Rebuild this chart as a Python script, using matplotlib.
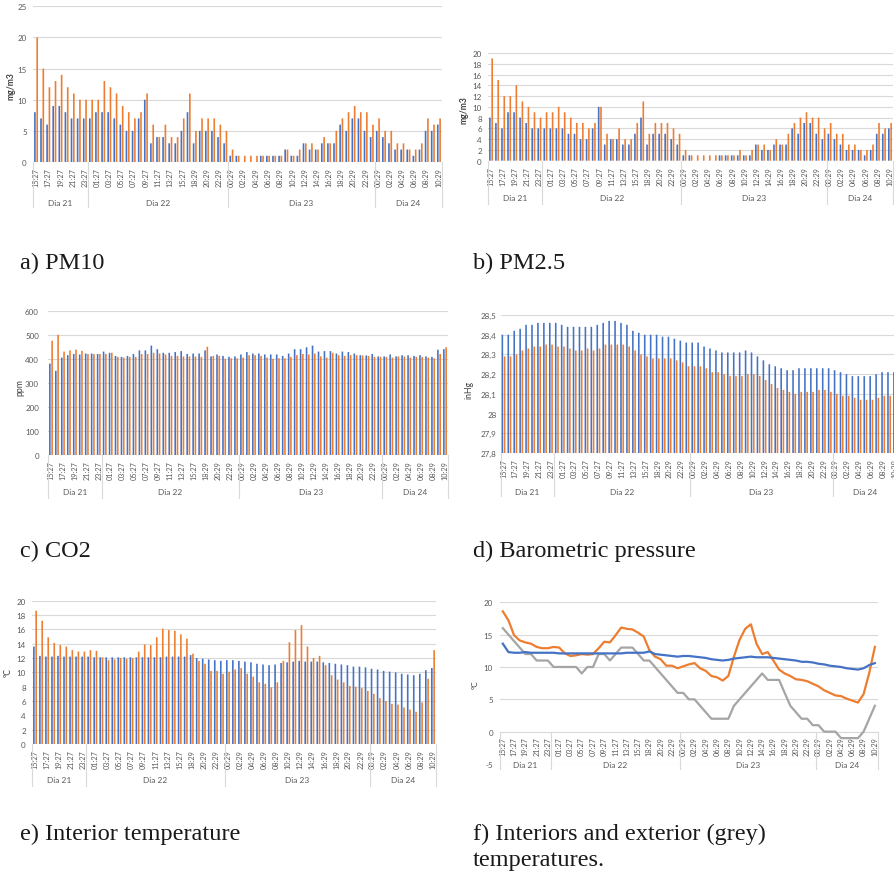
import numpy as np
import matplotlib
matplotlib.use("Agg")
import matplotlib.pyplot as plt
from matplotlib.lines import Line2D
import matplotlib.transforms as mtransforms

# ---------------- categories ----------------
DAY21 = ["15:27", "16:27", "17:27", "18:27", "19:27", "20:27", "21:27", "22:27", "23:27"]
DAY22 = ["00:27", "01:27", "02:27", "03:27", "04:27", "05:27", "06:27", "07:27", "08:27", "09:27",
         "10:27", "11:27", "12:27", "13:27", "14:27", "15:27", "17:29", "18:29", "19:29", "20:29",
         "21:29", "22:29", "23:29"]
DAY23 = ["00:29", "01:29", "02:29", "03:29", "04:29", "05:29", "06:29", "07:29", "08:29", "09:29",
         "10:29", "11:29", "12:29", "13:29", "14:29", "15:29", "16:29", "17:29", "18:29", "19:29",
         "20:29", "21:29", "22:29", "23:29"]
DAY24 = ["00:29", "01:29", "02:29", "03:29", "04:29", "05:29", "06:29", "07:29", "08:29", "09:29", "10:29"]
DAY_NAMES = ["Dia 21", "Dia 22", "Dia 23", "Dia 24"]

# ---------------- series ----------------
pm10_blue = [8, 7, 6, 9, 9, 8, 7, 7, 7,
             7, 8, 8, 8, 7, 6, 5, 5, 7, 10, 3, 4, 4, 3, 3, 5, 8, 3, 5, 5, 5, 4, 3,
             1, 1, 0, 0, 0, 1, 1, 1, 1, 2, 1, 1, 3, 2, 2, 3, 3, 3, 6, 5, 7, 7, 5, 4,
             5, 4, 3, 2, 2, 2, 1, 2, 5, 5, 6]
pm10_orange = [20, 15, 12, 13, 14, 12, 11, 10, 10,
               10, 10, 13, 12, 11, 9, 8, 7, 8, 11, 6, 4, 6, 4, 4, 7, 11, 5, 7, 7, 7, 6, 5,
               2, 1, 1, 1, 1, 1, 1, 1, 1, 2, 1, 2, 3, 3, 2, 4, 3, 5, 7, 8, 9, 8, 8, 6,
               7, 5, 5, 3, 3, 2, 2, 3, 7, 6, 7]

pm25_blue = [8, 7, 6, 9, 9, 8, 7, 6, 6,
             6, 6, 6, 6, 5, 5, 4, 4, 6, 10, 3, 4, 4, 3, 3, 5, 8, 3, 5, 5, 5, 4, 3,
             1, 1, 0, 0, 0, 0, 1, 1, 1, 1, 1, 1, 3, 2, 2, 3, 3, 3, 6, 5, 7, 7, 5, 4,
             5, 4, 3, 2, 2, 2, 1, 2, 5, 5, 6]
pm25_orange = [19, 15, 12, 12, 14, 11, 10, 9, 8,
               9, 9, 10, 9, 8, 7, 7, 6, 7, 10, 5, 4, 6, 4, 4, 7, 11, 5, 7, 7, 7, 6, 5,
               2, 1, 1, 1, 1, 1, 1, 1, 1, 2, 1, 2, 3, 3, 2, 4, 3, 5, 7, 8, 9, 8, 8, 6,
               7, 5, 5, 3, 3, 2, 2, 3, 7, 6, 7]

co2_blue = [380, 350, 405, 415, 420, 418, 422, 422, 420,
            430, 425, 412, 408, 412, 420, 435, 435, 455, 440, 425, 425, 428, 432, 420, 422, 422, 435,
            410, 418, 412, 408, 410,
            418, 428, 422, 422, 418, 418, 418, 412, 422, 440, 440, 448, 455, 430, 432, 432, 422, 430,
            428, 422, 415, 414, 420, 410,
            410, 418, 410, 415, 415, 412, 415, 410, 408, 438, 440]
co2_orange = [475, 500, 430, 435, 438, 433, 420, 420, 420,
              420, 425, 408, 405, 408, 408, 420, 420, 425, 422, 418, 412, 412, 410, 410, 410, 408, 450,
              412, 412, 400, 402, 402,
              405, 415, 415, 412, 405, 400, 402, 402, 408, 415, 420, 418, 422, 410, 405, 425, 415, 412,
              415, 415, 414, 412, 408, 408,
              408, 405, 410, 410, 405, 408, 408, 405, 402, 420, 448]

pres_blue = [28.40, 28.40, 28.42, 28.43, 28.45, 28.45, 28.46, 28.46, 28.46,
             28.46, 28.45, 28.44, 28.44, 28.44, 28.44, 28.44, 28.45, 28.46, 28.47, 28.47, 28.46,
             28.45, 28.42, 28.41, 28.40, 28.40, 28.40, 28.39, 28.39, 28.38, 28.37, 28.36,
             28.36, 28.36, 28.34, 28.33, 28.32, 28.31, 28.31, 28.31, 28.31, 28.32, 28.31, 28.29,
             28.27, 28.25, 28.24, 28.23, 28.22, 28.22, 28.23, 28.23, 28.23, 28.23, 28.23, 28.23,
             28.22, 28.21, 28.20, 28.19, 28.19, 28.19, 28.19, 28.20, 28.21, 28.21, 28.21]
pres_orange = [28.29, 28.29, 28.30, 28.32, 28.33, 28.34, 28.34, 28.35, 28.35,
               28.34, 28.34, 28.33, 28.32, 28.32, 28.33, 28.32, 28.33, 28.35, 28.35, 28.35, 28.35,
               28.34, 28.32, 28.30, 28.29, 28.28, 28.28, 28.28, 28.28, 28.27, 28.26, 28.24,
               28.24, 28.24, 28.23, 28.21, 28.21, 28.20, 28.19, 28.19, 28.19, 28.20, 28.20, 28.19,
               28.17, 28.15, 28.13, 28.12, 28.11, 28.10, 28.11, 28.11, 28.11, 28.12, 28.12, 28.11,
               28.10, 28.09, 28.09, 28.08, 28.07, 28.07, 28.07, 28.08, 28.09, 28.09, 28.09]

tin_blue = [13.6, 12.3, 12.2, 12.2, 12.3, 12.2, 12.2, 12.2, 12.2,
            12.2, 12.1, 12.1, 12.1, 12.1, 12.1, 12.1, 12.1, 12.1, 12.1, 12.1, 12.1, 12.1, 12.2,
            12.2, 12.2, 12.2, 12.4, 12.0, 11.9, 11.8, 11.7, 11.6,
            11.7, 11.7, 11.6, 11.5, 11.4, 11.2, 11.1, 11.0, 11.1, 11.3, 11.4, 11.5, 11.6, 11.5,
            11.5, 11.5, 11.4, 11.3, 11.2, 11.1, 11.0, 10.8, 10.8, 10.7,
            10.5, 10.4, 10.2, 10.1, 10.0, 9.8, 9.7, 9.6, 9.8, 10.3, 10.6]
tin_orange = [18.6, 17.2, 14.9, 14.1, 13.8, 13.6, 13.1, 12.9, 12.9,
              13.1, 13.0, 12.1, 11.7, 11.8, 12.0, 11.9, 12.0, 12.9, 13.9, 13.8, 14.9, 16.1, 15.9,
              15.8, 15.3, 14.7, 12.6, 11.6, 11.2, 10.2, 10.2, 9.8,
              10.1, 10.4, 10.6, 9.8, 9.4, 8.6, 8.4, 7.9, 8.6, 11.6, 14.2, 15.9, 16.6, 13.6,
              12.0, 12.3, 11.0, 9.6, 9.0, 8.6, 8.1, 8.0, 7.8, 7.4,
              7.0, 6.4, 6.0, 5.6, 5.5, 5.1, 4.8, 4.5, 5.8, 9.1, 13.1]
t_exterior = [16, 15, 14, 13, 12, 12, 11, 11, 11,
              10, 10, 10, 10, 10, 9, 10, 10, 12, 12, 11, 12, 13, 13, 13, 12, 11, 11, 10, 9, 8, 7, 6,
              6, 5, 5, 4, 3, 2, 2, 2, 2, 4, 5, 6, 7, 8, 9, 8, 8, 8, 6, 4, 3, 2, 2, 1,
              1, 0, 0, 0, -1, -1, -1, -1, 0, 2, 4]

CAPTIONS = ["a) PM10", "b) PM2.5", "c) CO2", "d) Barometric pressure", "e) Interior temperature",
            "f) Interiors and exterior (grey)", "temperatures."]

# ---------------- styling ----------------
W, H = 894, 879
BLUE = "#4472C4"
ORANGE = "#ED7D31"
GREY = "#A5A5A5"
GRID = "#D9D9D9"
TXT = "#595959"
TICKFONT = ["Lato", "DejaVu Sans"]

fig = plt.figure(figsize=(W / 100, H / 100), dpi=100)
fig.patch.set_facecolor("white")

labels = DAY21 + DAY22 + DAY23 + DAY24
n = len(labels)
groups = [len(DAY21), len(DAY22), len(DAY23), len(DAY24)]


def make_axes(left, top, right, bottom):
    return fig.add_axes([left / W, 1 - bottom / H, (right - left) / W, (bottom - top) / H])


def decorate(ax, ax_h, yticks, ylabels, ypad, zero_frac, dia_off, sep_off, xpad=4):
    ax.set_xlim(-0.5, n - 0.5)
    ax.set_ylim(yticks[0], yticks[-1])
    ax.set_yticks(yticks)
    ax.set_yticklabels(ylabels)
    ax.yaxis.grid(True, color=GRID, lw=0.8)
    ax.set_axisbelow(True)
    for s in ax.spines.values():
        s.set_visible(False)
    ax.set_xticks(np.arange(0, n, 2))
    ax.set_xticklabels(labels[::2], rotation=90, fontsize=5.2, color=TXT, family=TICKFONT)
    ax.tick_params(axis="x", length=0, pad=xpad)
    ax.tick_params(axis="y", length=0, pad=ypad, labelsize=5.8, labelcolor=TXT)
    for t in ax.get_yticklabels():
        t.set_family(TICKFONT)
    trans = mtransforms.blended_transform_factory(ax.transData, ax.transAxes)
    start = 0
    bounds = [-0.5]
    for g, name in zip(groups, DAY_NAMES):
        mid = start + (g - 1) / 2
        ax.text(mid, zero_frac - dia_off / ax_h, name, transform=trans, ha="center", va="center",
                fontsize=6, color=TXT, family=TICKFONT)
        start += g
        bounds.append(start - 0.5)
    for b in bounds:
        ax.add_line(Line2D([b, b], [zero_frac, zero_frac - sep_off / ax_h], transform=trans,
                           color=GRID, lw=0.8, clip_on=False))


def bar_panel(box, blue, orange, yticks, ylabels, ylabel, ylab_xy, ypad, dia_off, sep_off,
              base=0.0, ylab_bold=False):
    left, top, right, bottom = box
    ax = make_axes(left, top, right, bottom)
    x = np.arange(n)
    ax.bar(x - 0.19, np.array(blue) - base, bottom=base, width=0.27, color=BLUE, snap=False,
           linewidth=0)
    ax.bar(x + 0.19, np.array(orange) - base, bottom=base, width=0.27, color=ORANGE, snap=False,
           linewidth=0)
    decorate(ax, bottom - top, yticks, ylabels, ypad, 0.0, dia_off, sep_off)
    fig.text(ylab_xy[0] / W, 1 - ylab_xy[1] / H, ylabel, rotation=90, ha="center", va="center",
             fontsize=6.2, color="#404040", family=TICKFONT,
             fontweight="bold" if ylab_bold else "normal")
    return ax


# a) PM10
bar_panel((33, 7.3, 442, 163), pm10_blue, pm10_orange, [0, 5, 10, 15, 20, 25],
          ["0", "5", "10", "15", "20", "25"], "mg/m3", (11, 86), 4.5, 40, 45, ylab_bold=True)
# b) PM2.5
bar_panel((488, 54, 893, 161.7), pm25_blue, pm25_orange, list(range(0, 21, 2)),
          [str(v) for v in range(0, 21, 2)], "mg/m3", (464, 110), 4.5, 37, 43, ylab_bold=True)
# c) CO2
bar_panel((48, 311.7, 448, 456), co2_blue, co2_orange, list(range(0, 601, 100)),
          [str(v) for v in range(0, 601, 100)], "ppm", (20, 388), 6.5, 37, 43)
# d) Pressure
pt = [27.8, 27.9, 28.0, 28.1, 28.2, 28.3, 28.4, 28.5]
bar_panel((500.5, 316, 898, 454), pres_blue, pres_orange, pt,
          ["27,8", "27,9", "28", "28,1", "28,2", "28,3", "28,4", "28,5"], "inHg", (469, 390), 3,
          39, 43, base=27.8)
# e) Interior temperature
bar_panel((32, 601.7, 436, 745), tin_blue, tin_orange, list(range(0, 21, 2)),
          [str(v) for v in range(0, 21, 2)], "ºC", (8, 673), 4.5, 36, 42)

# f) line chart
left, top, right, bottom = 500, 603.3, 877.7, 765
axf = make_axes(left, top, right, bottom)
axf.spines["bottom"].set_position(("data", 0))
x = np.arange(n)
axf.plot(x, t_exterior, color=GREY, lw=1.6, solid_joinstyle="round")
axf.plot(x, tin_orange, color=ORANGE, lw=1.6, solid_joinstyle="round")
axf.plot(x, tin_blue, color=BLUE, lw=1.6, solid_joinstyle="round")
yt = [-5, 0, 5, 10, 15, 20]
decorate(axf, bottom - top, yt, [str(v) for v in yt], 5, 5 / 25, 33, 37, xpad=3)
fig.text(475 / W, 1 - 685 / H, "ºC", rotation=90, ha="center", va="center", fontsize=6,
         color="#404040", family=TICKFONT)

# captions
cap_pos = [(20, 269), (473, 269), (20, 557), (473, 557), (20, 840), (473, 840), (473, 866)]
for (cx, cy), txt in zip(cap_pos, CAPTIONS):
    fig.text(cx / W, 1 - cy / H, txt, ha="left", va="baseline", fontsize=17.5,
             family="Liberation Serif", color="#1a1a1a")

fig.savefig("out.png", dpi=100, facecolor="white")
